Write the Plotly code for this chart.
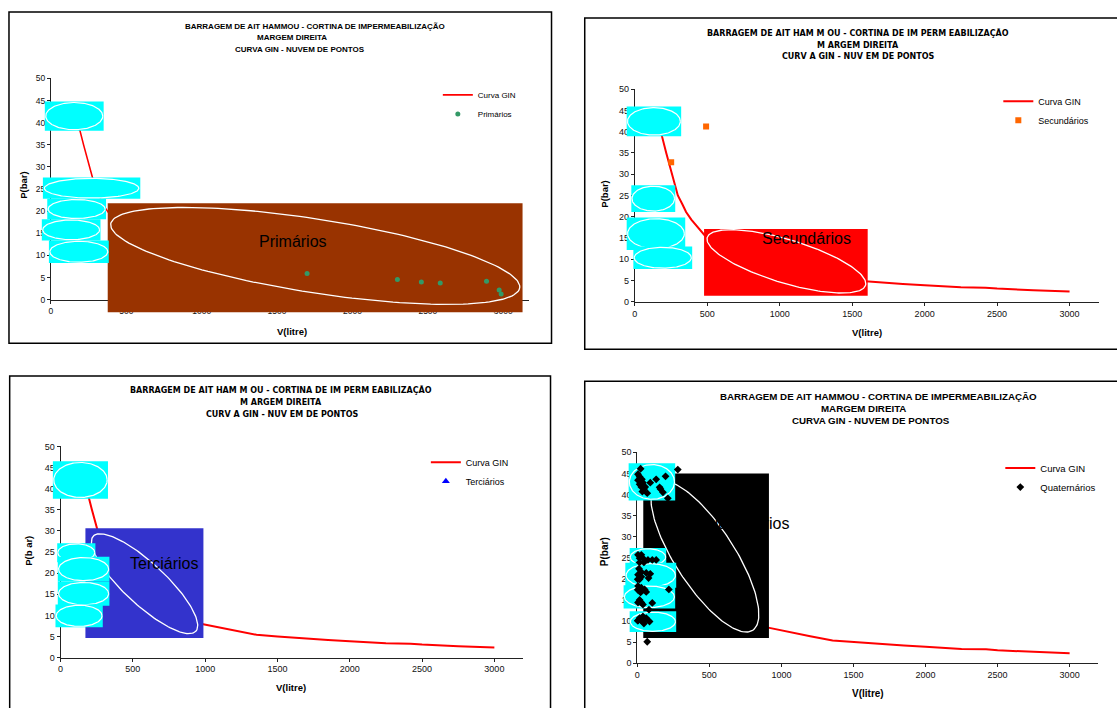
import numpy as np
import plotly.graph_objects as go

W, H = 1117, 708
FONT = "Liberation Sans, Arial, sans-serif"
FONT_WIDE = "DejaVu Sans, Verdana, sans-serif"

# ---------------- data ----------------
gin_v = [168, 187, 217, 247, 274, 297, 330, 354, 390, 423, 480, 540, 600, 700, 800, 900,
         1000, 1100, 1200, 1355, 1500, 1650, 1760, 1850, 2000, 2250, 2420, 2500, 2750, 3000]
gin_p = [44.5, 39.0, 35.0, 31.0, 27.7, 25.0, 22.8, 21.1, 19.3, 18.0, 15.7, 14.0, 12.6, 10.9, 9.6, 8.5,
         7.8, 7.0, 6.4, 5.4, 5.0, 4.6, 4.3, 4.2, 3.9, 3.4, 3.3, 3.1, 2.7, 2.4]

prim_v = [1699, 2298, 2457, 2582, 2889, 2973, 2986]
prim_p = [5.95, 4.6, 4.0, 3.8, 4.2, 2.2, 1.3]

sec_v = [492, 251]
sec_p = [41.2, 32.8]

ter_v = []
ter_p = []

quat_v = [23, 281, 196, 5, 16, 32, 5, 39, 16, 28, 46, 35, 69, 131, 90, 161, 178, 155, 212, 55,
          5, 28, 16, 39, 74, 104, 131, 46, 16,
          12, 28, 5, 62, 90, 78, 28, 3, 16,
          5, 28, 51, 3, 23, 62, 219, 16, 28, 5, 104, 39, 81,
          39, 62, 3, 5, 28, 51, 85, 46, 16,
          69]
quat_p = [46.1, 45.9, 44.3, 44.8, 44.2, 43.6, 43.4, 42.8, 42.4, 41.8, 41.3, 40.7, 40.3, 43.6, 42.8, 41.3, 40.5, 41.7, 39.1, 41.8,
          25.7, 25.7, 24.9, 24.9, 24.5, 24.5, 24.5, 23.9, 23.9,
          22.4, 21.6, 21.0, 21.4, 21.2, 20.2, 20.5, 19.9, 19.9,
          18.3, 17.9, 17.5, 17.4, 16.8, 16.9, 17.5, 15.0, 14.4, 14.4, 14.3, 13.9, 12.7,
          11.1, 10.7, 10.1, 10.1, 10.1, 10.1, 9.9, 9.4, 10.7,
          5.1]

x_ticks = [0, 500, 1000, 1500, 2000, 2500, 3000]
y_ticks = [0, 5, 10, 15, 20, 25, 30, 35, 40, 45, 50]

series_names = ["Primários", "Secundários", "Terciários", "Quaternários"]
series_v = [prim_v, sec_v, ter_v, quat_v]
series_p = [prim_p, sec_p, ter_p, quat_p]

title_plain = ["BARRAGEM DE AIT HAMMOU - CORTINA DE IMPERMEABILIZAÇÃO",
               "MARGEM DIREITA",
               "CURVA GIN - NUVEM DE PONTOS"]
title_spaced = ["BARRAGEM DE AIT HAM M OU - CORTINA DE IM PERM EABILIZAÇÃO",
                "M ARGEM DIREITA",
                "CURV A GIN - NUV EM DE PONTOS"]

# overlay decorations (data units of each panel): [x0, x1, y0, y1]
cyan_boxes = [
    [[-40, 350, 38.2, 44.8], [-53, 593, 22.8, 27.6], [-24, 366, 18.2, 22.8],
     [-60, 329, 13.4, 18.2], [-13, 384, 8.3, 13.4]],
    [[-56, 320, 38.95, 45.9], [-24, 279, 21.1, 27.4], [-56, 348, 12.2, 19.8],
     [-10, 396, 7.7, 13.0]],
    [[-53, 328, 37.6, 46.5], [-23, 241, 22.6, 27.1], [-19, 338, 18.0, 23.9],
     [-19, 338, 12.3, 18.0], [-35, 292, 7.2, 12.6]],
    [[-60, 263, 38.55, 47.4], [-53, 201, 23.0, 27.3], [-83, 270, 17.9, 23.8],
     [-95, 263, 13.0, 18.5], [-53, 270, 7.4, 12.3]],
]
big_rects = [[377, 3128, -2.83, 21.8], [478, 1607, 1.4, 17.1],
             [172, 988, 4.67, 30.6], [41.5, 913.5, 6.0, 45.0]]
big_rect_colors = ["#993300", "#FF0000", "#3333CC", "#000000"]
# rotated ellipses: centre, and two conjugate half-axis vectors
big_ell = [
    [(1753, 9.91), (1356, -7.24), (-38.7, -8.22)],
    [(1046, 9.5), (546, -5.63), (-44.3, -4.88)],
    [(581, 17.5), (354, -11.27), (-99, -3.57)],
    [(469, 25.3), (331, -17.5), (-175, -3.76)],
]
big_labels = [(1606, 13.1), (1187, 14.9), (714, 22.2), (734, 33.1)]

# ---------------- layout geometry (pixels) ----------------
panels = [
    dict(xpx=(48, 527.3), ypx=(74.5, 299), xmax=3170, box=(6, 7, 550, 343), tick=8.5,
         title=title_plain, tfont=FONT, tsize=8, tpos=[(312.5, 22.3), (290, 33.3), (298, 45)],
         ylab="P(bar)", ylpos=(20.5, 183), xlab="V(litre)", xlpos=(290, 330.7), labsize=9.5,
         leg=(436, 76.5), legsize=8,
         marker=dict(symbol="circle", color="#339966", size=5), linew=1.6),
    dict(xpx=(633.5, 1098.5), ypx=(85.35, 301), xmax=3200, box=(583.3, 13.3, 1125, 349.3), tick=9,
         title=title_spaced, tfont=FONT_WIDE, tsize=8, tpos=[(857, 28), (857, 40.7), (857, 52.7)],
         ylab="P(bar)", ylpos=(603.3, 191.7), xlab="V(litre)", xlpos=(866, 331.7), labsize=9.5,
         leg=(998, 83), legsize=9,
         marker=dict(symbol="square", color="#FF6600", size=6), linew=2),
    dict(xpx=(57.7, 521.7), ypx=(447.7, 662), xmax=3200, box=(6.7, 376.3, 549, 720), tick=9,
         title=title_spaced, tfont=FONT_WIDE, tsize=8, tpos=[(278.6, 391), (278.6, 402.7), (280, 415.3)],
         ylab="P(b ar)", ylpos=(26, 553.7), xlab="V(litre)", xlpos=(289, 692.5), labsize=9.5,
         leg=(424, 449), legsize=9,
         marker=dict(symbol="triangle-up", color="#0000FF", size=7), linew=2),
    dict(xpx=(636, 1098.4), ypx=(453.7, 667.7), xmax=3200, box=(583.3, 381.7, 1125, 720), tick=9,
         title=title_plain, tfont=FONT, tsize=9.75, tpos=[(878, 396.7), (862.5, 409.3), (870.5, 421.7)],
         ylab="P(bar)", ylpos=(603.3, 554.3), xlab="V(litre)", xlpos=(867.6, 698), labsize=10,
         leg=(1000, 455), legsize=9.5,
         marker=dict(symbol="diamond", color="#000000", size=6), linew=2),
]

fig = go.Figure()
layout = dict(width=W, height=H, margin=dict(l=0, r=0, t=0, b=0), autosize=False,
              paper_bgcolor="white", plot_bgcolor="rgba(0,0,0,0)", showlegend=True)
annotations, shapes = [], []


def px_x(p):
    return p / W


def px_y(p):
    return 1 - p / H


t = np.linspace(0, 2 * np.pi, 181)

# curves first (so legend lists Curva GIN first)
for i, P in enumerate(panels):
    n = i + 1
    sfx = "" if n == 1 else str(n)
    legname = "legend" if n == 1 else f"legend{n}"
    fig.add_trace(go.Scatter(x=gin_v, y=gin_p, mode="lines", name="Curva GIN",
                             line=dict(color="#FF0000", width=P["linew"]),
                             xaxis=f"x{sfx}", yaxis=f"y{sfx}", legend=legname,
                             hoverinfo="skip"))

for i, P in enumerate(panels):
    n = i + 1
    sfx = "" if n == 1 else str(n)
    on = n + 4
    legname = "legend" if n == 1 else f"legend{n}"
    x0p, x1p = P["xpx"]
    ytp, ybp = P["ypx"]
    # main axes
    layout[f"xaxis{sfx}"] = dict(domain=[px_x(x0p), px_x(x1p)], range=[0, P["xmax"]],
                                 anchor=f"y{sfx}", tickvals=x_ticks, showgrid=False,
                                 zeroline=False, showline=True, linecolor="#222", linewidth=1,
                                 ticks="outside", ticklen=3, tickcolor="#222",
                                 tickfont=dict(family=FONT, size=P["tick"], color="#111"),
                                 fixedrange=True)
    layout[f"yaxis{sfx}"] = dict(domain=[px_y(ybp), px_y(ytp)], range=[0, 50],
                                 anchor=f"x{sfx}", tickvals=y_ticks, showgrid=False,
                                 zeroline=False, showline=True, linecolor="#222", linewidth=1,
                                 ticks="outside", ticklen=3, tickcolor="#222",
                                 tickfont=dict(family=FONT, size=P["tick"], color="#111"),
                                 fixedrange=True)
    # overlay axes spanning the whole panel box, aligned with main data coords
    bx0, by0, bx1, by1 = P["box"]
    ox0, ox1 = max(bx0, 0) + 1, min(bx1, W)
    oy0, oy1 = max(by0, 0) + 1, min(by1, H)
    sx = P["xmax"] / (x1p - x0p)
    sy = 50 / (ybp - ytp)
    layout[f"xaxis{on}"] = dict(domain=[px_x(ox0), px_x(ox1)],
                                range=[(ox0 - x0p) * sx, (ox1 - x0p) * sx],
                                anchor=f"y{on}", visible=False, fixedrange=True)
    layout[f"yaxis{on}"] = dict(domain=[px_y(oy1), px_y(oy0)],
                                range=[(ybp - oy1) * sy, (ybp - oy0) * sy],
                                anchor=f"x{on}", visible=False, fixedrange=True)
    oxa, oya = f"x{on}", f"y{on}"

    # big coloured rectangle + ellipse
    rx0, rx1, ry0, ry1 = big_rects[i]
    fig.add_trace(go.Scatter(x=[rx0, rx1, rx1, rx0, rx0], y=[ry0, ry0, ry1, ry1, ry0],
                             mode="lines", fill="toself", fillcolor=big_rect_colors[i],
                             line=dict(width=0, color=big_rect_colors[i]),
                             xaxis=oxa, yaxis=oya, showlegend=False, hoverinfo="skip"))
    (cx, cy), (ux, uy), (vx, vy) = big_ell[i]
    fig.add_trace(go.Scatter(x=cx + ux * np.cos(t) + vx * np.sin(t),
                             y=cy + uy * np.cos(t) + vy * np.sin(t),
                             mode="lines", line=dict(color="white", width=1.3),
                             xaxis=oxa, yaxis=oya, showlegend=False, hoverinfo="skip"))
    # cyan boxes with ellipses
    for (bx_0, bx_1, by_0, by_1) in cyan_boxes[i]:
        fig.add_trace(go.Scatter(x=[bx_0, bx_1, bx_1, bx_0, bx_0],
                                 y=[by_0, by_0, by_1, by_1, by_0],
                                 mode="lines", fill="toself", fillcolor="#00FFFF",
                                 line=dict(width=0, color="#00FFFF"),
                                 xaxis=oxa, yaxis=oya, showlegend=False, hoverinfo="skip"))
        ecx, ecy = (bx_0 + bx_1) / 2, (by_0 + by_1) / 2
        erx, ery = (bx_1 - bx_0) / 2 * 0.97, (by_1 - by_0) / 2 * 0.93
        fig.add_trace(go.Scatter(x=ecx + erx * np.cos(t), y=ecy + ery * np.sin(t),
                                 mode="lines", line=dict(color="white", width=1.2),
                                 xaxis=oxa, yaxis=oya, showlegend=False, hoverinfo="skip"))
    # data points (series with no readable points still gets its legend entry)
    xs = series_v[i] if len(series_v[i]) else [None]
    ys = series_p[i] if len(series_p[i]) else [None]
    fig.add_trace(go.Scatter(x=xs, y=ys, mode="markers",
                             name=series_names[i], marker=P["marker"],
                             xaxis=oxa, yaxis=oya, legend=legname, hoverinfo="skip"))

    # big label
    lx, ly = big_labels[i]
    annotations.append(dict(x=lx, y=ly, xref=f"x{sfx}", yref=f"y{sfx}", text=series_names[i],
                            showarrow=False, font=dict(family=FONT, size=16, color="black"),
                            xanchor="center", yanchor="middle"))
    # titles
    for line, (tx, ty) in zip(P["title"], P["tpos"]):
        annotations.append(dict(x=px_x(tx), y=px_y(ty), xref="paper", yref="paper",
                                text=f"<b>{line}</b>", showarrow=False,
                                font=dict(family=P["tfont"], size=P["tsize"], color="black"),
                                xanchor="center", yanchor="middle"))
    # axis titles
    annotations.append(dict(x=px_x(P["ylpos"][0]), y=px_y(P["ylpos"][1]), xref="paper",
                            yref="paper", text=f"<b>{P['ylab']}</b>", showarrow=False,
                            textangle=-90, font=dict(family=FONT, size=P["labsize"], color="black"),
                            xanchor="center", yanchor="middle"))
    annotations.append(dict(x=px_x(P["xlpos"][0]), y=px_y(P["xlpos"][1]), xref="paper",
                            yref="paper", text=f"<b>{P['xlab']}</b>", showarrow=False,
                            font=dict(family=FONT, size=P["labsize"], color="black"),
                            xanchor="center", yanchor="middle"))
    # panel frame
    shapes.append(dict(type="rect", xref="paper", yref="paper",
                       x0=px_x(bx0), x1=px_x(bx1), y0=px_y(by1), y1=px_y(by0),
                       line=dict(color="black", width=1.5), fillcolor="rgba(0,0,0,0)",
                       layer="below"))
    # legend
    layout[legname] = dict(x=px_x(P["leg"][0]), y=px_y(P["leg"][1]), xanchor="left",
                           yanchor="top", bgcolor="rgba(0,0,0,0)", borderwidth=0,
                           font=dict(family=FONT, size=P["legsize"], color="black"),
                           tracegroupgap=0, itemclick=False, itemdoubleclick=False)

layout["annotations"] = annotations
layout["shapes"] = shapes
fig.update_layout(**layout)
fig.write_html("out.html", config={"displayModeBar": False},
               post_script="document.body.style.margin='0px';")
